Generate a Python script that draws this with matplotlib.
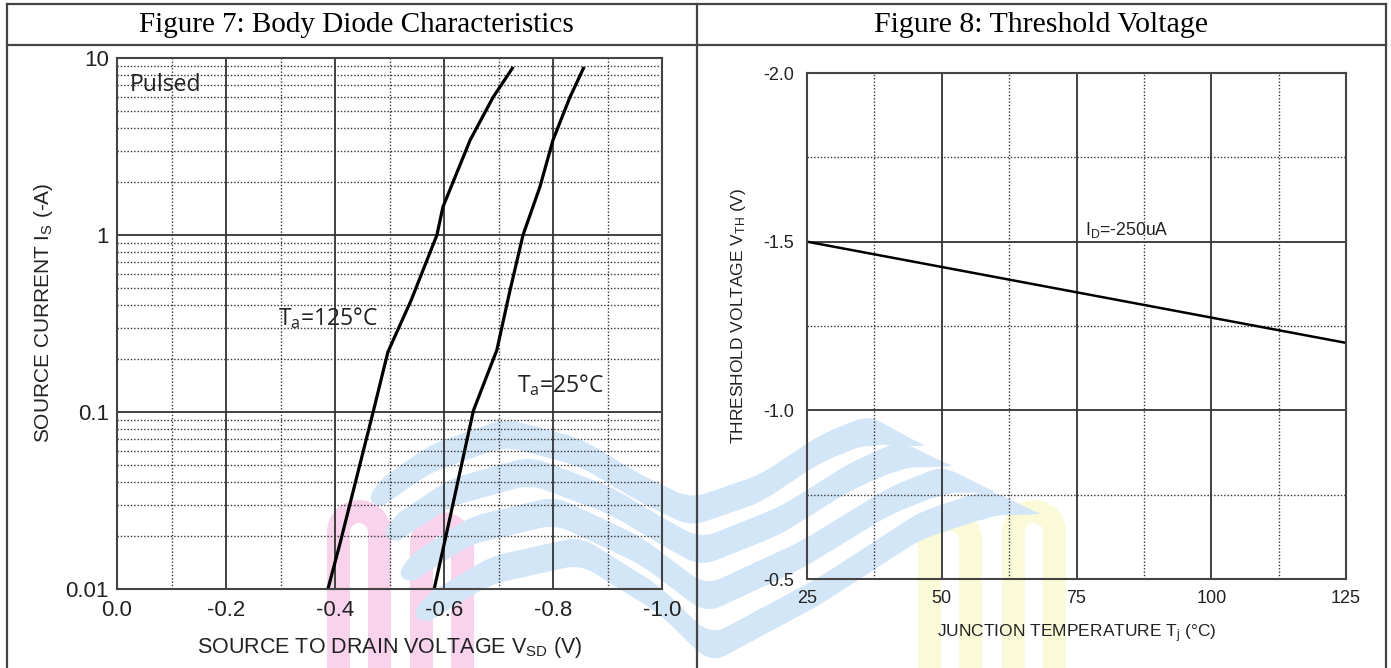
import numpy as np
import matplotlib
matplotlib.use('Agg')
import matplotlib.pyplot as plt
from matplotlib.lines import Line2D
from matplotlib.patches import Wedge, Rectangle
from matplotlib.ticker import FixedLocator, NullFormatter

plt.rcParams['font.family'] = ['Liberation Sans', 'DejaVu Sans']
plt.rcParams['mathtext.fontset'] = 'custom'
plt.rcParams['mathtext.rm'] = 'Liberation Sans'
plt.rcParams['mathtext.it'] = 'Liberation Sans'

# Figure 7 - body diode, two temperatures
v_125 = [-0.387, -0.409, -0.470, -0.497, -0.540, -0.587, -0.598, -0.648, -0.690, -0.727]
i_125 = [0.01, 0.018, 0.10, 0.218, 0.43, 1.0, 1.44, 3.44, 6.0, 8.9]
v_25 = [-0.582, -0.604, -0.654, -0.697, -0.720, -0.745, -0.776, -0.800, -0.831, -0.857]
i_25 = [0.01, 0.0202, 0.102, 0.224, 0.47, 1.0, 1.87, 3.44, 6.0, 8.9]

vsd_ticks = [0.0, -0.2, -0.4, -0.6, -0.8, -1.0]
vsd_labels = ['0.0', '-0.2', '-0.4', '-0.6', '-0.8', '-1.0']
is_ticks = [0.01, 0.1, 1, 10]
is_labels = ['0.01', '0.1', '1', '10']

# Figure 8 - threshold voltage vs junction temperature
tj = [25, 50, 75, 100, 125]
vth = [-1.5, -1.425, -1.35, -1.275, -1.2]
tj_ticks = [25, 50, 75, 100, 125]
vth_ticks = [-2.0, -1.5, -1.0, -0.5]
vth_labels = ['-2.0', '-1.5', '-1.0', '-0.5']

W, H = 1391, 668
fig = plt.figure(figsize=(W / 100, H / 100), dpi=100)

def px(x0, y0, x1, y1):
    return [x0 / W, 1 - y1 / H, (x1 - x0) / W, (y1 - y0) / H]

grid_col = '#333333'
txt_col = '#222222'
dot = (0, (1, 1.4))

#%% faint watermark behind both panels (page decoration, not data)
bg = fig.add_axes([0, 0, 1, 1], zorder=0)
bg.set_xlim(0, W)
bg.set_ylim(H, 0)
bg.axis('off')

def arch(x_left, leg_w, gap, top, color):
    R = leg_w + gap / 2
    xc = x_left + R
    yc = top + R
    bg.add_patch(Wedge((xc, yc), R, 180, 360, width=leg_w, color=color, lw=0))
    bg.add_patch(Rectangle((x_left, yc), leg_w, H - yc, color=color, lw=0))
    bg.add_patch(Rectangle((xc + gap / 2, yc), leg_w, H - yc, color=color, lw=0))

for x_left, top in [(327, 500), (410, 512)]:
    arch(x_left, 23, 18, top, '#f9d2ec')
for x_left, top in [(918, 508), (1002, 500)]:
    arch(x_left, 23, 18, top, '#fafad9')

bands = [
    [(370, 500), (430, 458), (505, 432), (580, 452), (640, 488), (690, 512), (760, 488), (820, 448), (867, 429), (925, 446)],
    [(385, 535), (450, 492), (530, 470), (610, 500), (660, 530), (700, 552), (780, 520), (850, 476), (900, 454), (952, 466)],
    [(400, 575), (470, 530), (555, 510), (640, 550), (680, 580), (705, 599), (800, 555), (890, 500), (943, 479), (995, 492)],
    [(415, 615), (490, 570), (580, 550), (660, 600), (690, 630), (710, 649), (820, 590), (920, 525), (990, 502), (1040, 514)],
]
for band in bands:
    cx = np.array([p[0] for p in band], float)
    cy = np.array([p[1] for p in band], float)
    xs = np.arange(cx[0], cx[-1] + 1)
    ys = np.interp(xs, cx, cy)
    k = 31
    pad = np.pad(ys, k // 2, mode='edge')
    ys = np.convolve(pad, np.ones(k) / k, mode='valid')
    t = np.full_like(xs, 28.0)
    d0 = xs - xs[0]
    t = np.where(d0 < 14, 28 * np.sqrt(np.clip(d0 / 14, 0, 1)), t)
    d1 = xs[-1] - xs
    t = np.where(d1 < 55, 28 * d1 / 55, t)
    bg.fill_between(xs, ys - t / 2, ys + t / 2, color='#d3e6f8', lw=0)

#%% left panel
ax1 = fig.add_axes(px(117, 58, 662, 589), zorder=1)
ax1.patch.set_alpha(0)
ax1.set_yscale('log')
ax1.set_xlim(0, -1.0)
ax1.set_ylim(0.01, 10)
ax1.plot(v_125, i_125, color='black', lw=2.3, solid_capstyle='butt')
ax1.plot(v_25, i_25, color='black', lw=2.3, solid_capstyle='butt')

ax1.xaxis.set_major_locator(FixedLocator(vsd_ticks))
ax1.set_xticklabels(vsd_labels)
ax1.xaxis.set_minor_locator(FixedLocator([-0.1, -0.3, -0.5, -0.7, -0.9]))
ax1.yaxis.set_major_locator(FixedLocator(is_ticks))
ax1.set_yticklabels(is_labels)
ax1.yaxis.set_minor_locator(FixedLocator([m * 10.0 ** e for e in (-2, -1, 0) for m in range(2, 10)]))
ax1.yaxis.set_minor_formatter(NullFormatter())
ax1.grid(which='major', color=grid_col, lw=1.3, ls='-')
ax1.grid(which='minor', color=grid_col, lw=1.0, ls=dot)
ax1.tick_params(which='both', length=0, labelsize=16, colors=txt_col)
ax1.tick_params(axis='x', pad=8)
ax1.tick_params(axis='y', pad=6)
for s in ax1.spines.values():
    s.set_color('#444444')
    s.set_linewidth(1.5)

ax1.set_xlabel(r'SOURCE TO DRAIN VOLTAGE V$\mathdefault{_{SD}}$ (V)', fontsize=15.5, color=txt_col)
ax1.xaxis.set_label_coords(0.5, -0.086)
ax1.set_ylabel(r'SOURCE CURRENT I$\mathdefault{_S}$ (-A)', fontsize=15, color=txt_col)
ax1.yaxis.set_label_coords(-0.113, 0.52)

ax1.text(-0.024, 7.0, 'Pulsed', family=['Open Sans', 'DejaVu Sans'], fontsize=16.5,
         va='center', ha='left', color=txt_col)
ax1.text(-0.295, 0.34, r'T$\mathdefault{_a}$=125°C', family=['Open Sans', 'DejaVu Sans'],
         fontsize=16.5, va='center', ha='left', color=txt_col)
ax1.text(-0.734, 0.142, r'T$\mathdefault{_a}$=25°C', family=['Open Sans', 'DejaVu Sans'],
         fontsize=16.5, va='center', ha='left', color=txt_col)

#%% right panel
ax2 = fig.add_axes(px(807, 73, 1346, 579), zorder=1)
ax2.patch.set_alpha(0)
ax2.set_xlim(25, 125)
ax2.set_ylim(-0.5, -2.0)
ax2.plot(tj, vth, color='black', lw=1.8)

ax2.xaxis.set_major_locator(FixedLocator(tj_ticks))
ax2.xaxis.set_minor_locator(FixedLocator([37.5, 62.5, 87.5, 112.5]))
ax2.yaxis.set_major_locator(FixedLocator(vth_ticks))
ax2.set_yticklabels(vth_labels)
ax2.yaxis.set_minor_locator(FixedLocator([-1.75, -1.25, -0.75]))
ax2.grid(which='major', color=grid_col, lw=1.3, ls='-')
ax2.grid(which='minor', color=grid_col, lw=1.0, ls=dot)
ax2.tick_params(which='both', length=0, labelsize=13, colors=txt_col)
ax2.tick_params(axis='x', pad=8)
ax2.tick_params(axis='y', pad=9)
for s in ax2.spines.values():
    s.set_color('#444444')
    s.set_linewidth(1.5)

ax2.set_xlabel(r'JUNCTION TEMPERATURE T$\mathdefault{_j}$ (°C)', fontsize=12.5, color=txt_col)
ax2.xaxis.set_label_coords(0.5, -0.086)
ax2.set_ylabel(r'THRESHOLD VOLTAGE V$\mathdefault{_{TH}}$ (V)', fontsize=12.5, color=txt_col)
ax2.yaxis.set_label_coords(-0.110, 0.52)
ax2.text(76.6, -1.505, r'I$\mathdefault{_D}$=-250uA', fontsize=12.7, ha='left', va='bottom',
         color=txt_col)

#%% table frame and headers
frame = dict(color='#444444', lw=1.6, transform=fig.transFigure, zorder=3)
fx = lambda x: x / W
fy = lambda y: 1 - y / H
fig.add_artist(Line2D([fx(7), fx(1386)], [fy(4), fy(4)], **frame))
fig.add_artist(Line2D([fx(7), fx(1386)], [fy(45), fy(45)], **frame))
fig.add_artist(Line2D([fx(7), fx(7)], [fy(4), fy(668)], **frame))
fig.add_artist(Line2D([fx(697), fx(697)], [fy(4), fy(668)], **frame))
fig.add_artist(Line2D([fx(1386), fx(1386)], [fy(4), fy(668)], **frame))

fig.text(fx(356), fy(25), 'Figure 7: Body Diode Characteristics', family='Liberation Serif',
         fontsize=21, ha='center', va='center')
fig.text(fx(1041), fy(25), 'Figure 8: Threshold Voltage', family='Liberation Serif',
         fontsize=21.5, ha='center', va='center')

fig.savefig('out.png', dpi=100)
